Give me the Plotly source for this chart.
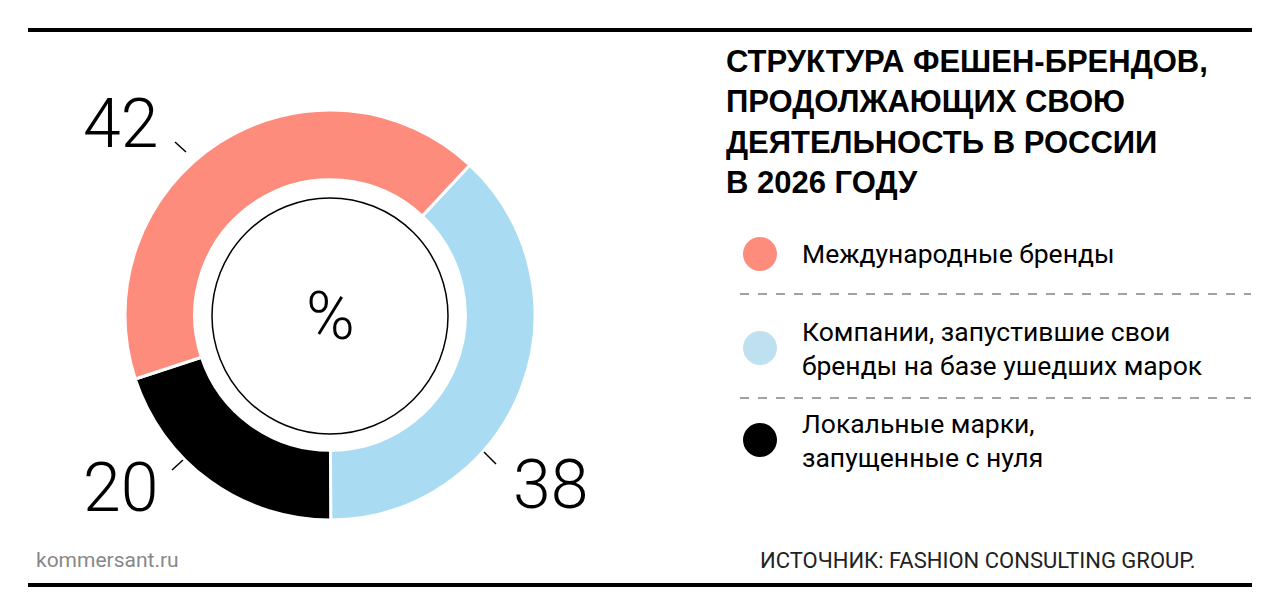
import plotly.graph_objects as go

labels = ["Компании, запустившие свои бренды на базе ушедших марок", "Локальные марки, запущенные с нуля", "Международные бренды"]
values = [38, 20, 42]
colors = ["#a9dcf3", "#000000", "#fe8c7c"]
legend_text = ["Международные бренды", "Компании, запустившие свои<br>бренды на базе ушедших марок", "Локальные марки,<br>запущенные с нуля"]
legend_colors = ["#fe8c7c", "#bfe0ef", "#000000"]

W, H = 1280, 614
OFF = 8
def px(x): return (x - OFF) / W
def py(y): return 1 - (y - OFF) / H

fig = go.Figure(go.Pie(labels=labels, values=values, sort=False, direction="clockwise", rotation=43,
                       hole=0.66, marker=dict(colors=colors, line=dict(color="white", width=3)),
                       textinfo="none", hoverinfo="label+value", showlegend=False,
                       domain=dict(x=[px(122), px(538)], y=[py(520), py(110)])))

shapes = [
    dict(type="line", xref="paper", yref="paper", x0=px(28), x1=px(1252), y0=py(30), y1=py(30), line=dict(color="black", width=4)),
    dict(type="line", xref="paper", yref="paper", x0=px(28), x1=px(1252), y0=py(585), y1=py(585), line=dict(color="black", width=4)),
    dict(type="line", xref="paper", yref="paper", x0=px(740), x1=px(1251), y0=py(294), y1=py(294), line=dict(color="#444", width=1, dash="dash")),
    dict(type="line", xref="paper", yref="paper", x0=px(740), x1=px(1251), y0=py(398), y1=py(398), line=dict(color="#444", width=1, dash="dash")),
    dict(type="circle", xref="paper", yref="paper", x0=px(212), x1=px(448), y0=py(198), y1=py(434), line=dict(color="black", width=1.5)),
    dict(type="line", xref="paper", yref="paper", x0=px(175), x1=px(186), y0=py(142), y1=py(152), line=dict(color="black", width=1.5)),
    dict(type="line", xref="paper", yref="paper", x0=px(172), x1=px(183), y0=py(470), y1=py(460), line=dict(color="black", width=1.5)),
    dict(type="line", xref="paper", yref="paper", x0=px(484), x1=px(496), y0=py(452), y1=py(464), line=dict(color="black", width=1.5)),
]
for c, yc in zip(legend_colors, [254, 348, 440]):
    shapes.append(dict(type="circle", xref="paper", yref="paper", x0=px(743), x1=px(777), y0=py(yc - 17), y1=py(yc + 17),
                       fillcolor=c, line=dict(width=0)))

ann = []
def a(x, y, t, size, xa="left", color="black", fam="Roboto", ya="middle"):
    ann.append(dict(x=px(x), y=py(y), xref="paper", yref="paper", text=t, showarrow=False, xanchor=xa, yanchor=ya,
                    align="left", font=dict(size=size, color=color, family=fam)))

a(724, 42, "<b>СТРУКТУРА ФЕШЕН-БРЕНДОВ,<br>ПРОДОЛЖАЮЩИХ СВОЮ<br>ДЕЯТЕЛЬНОСТЬ В РОССИИ<br>В 2026 ГОДУ</b>", 31, fam="Liberation Sans", ya="top")
for t, yc in zip(legend_text, [254, 348, 440]):
    a(800, yc, t, 26.5, fam="Roboto")
a(120, 124, "42", 68, xa="center", fam="Roboto Light, Roboto")
a(120, 488, "20", 68, xa="center", fam="Roboto Light, Roboto")
a(550, 485, "38", 68, xa="center", fam="Roboto Light, Roboto")
a(330, 316, "%", 66, xa="center", fam="Roboto Light, Roboto")
a(34, 560, "kommersant.ru", 21, color="#888")
a(1198, 560, "ИСТОЧНИК: FASHION CONSULTING GROUP.", 22, xa="right", color="#222")

fig.update_layout(width=W, height=H, margin=dict(l=0, r=0, t=0, b=0), paper_bgcolor="white",
                  plot_bgcolor="white", shapes=shapes, annotations=ann)
fig.write_html("out.html")
